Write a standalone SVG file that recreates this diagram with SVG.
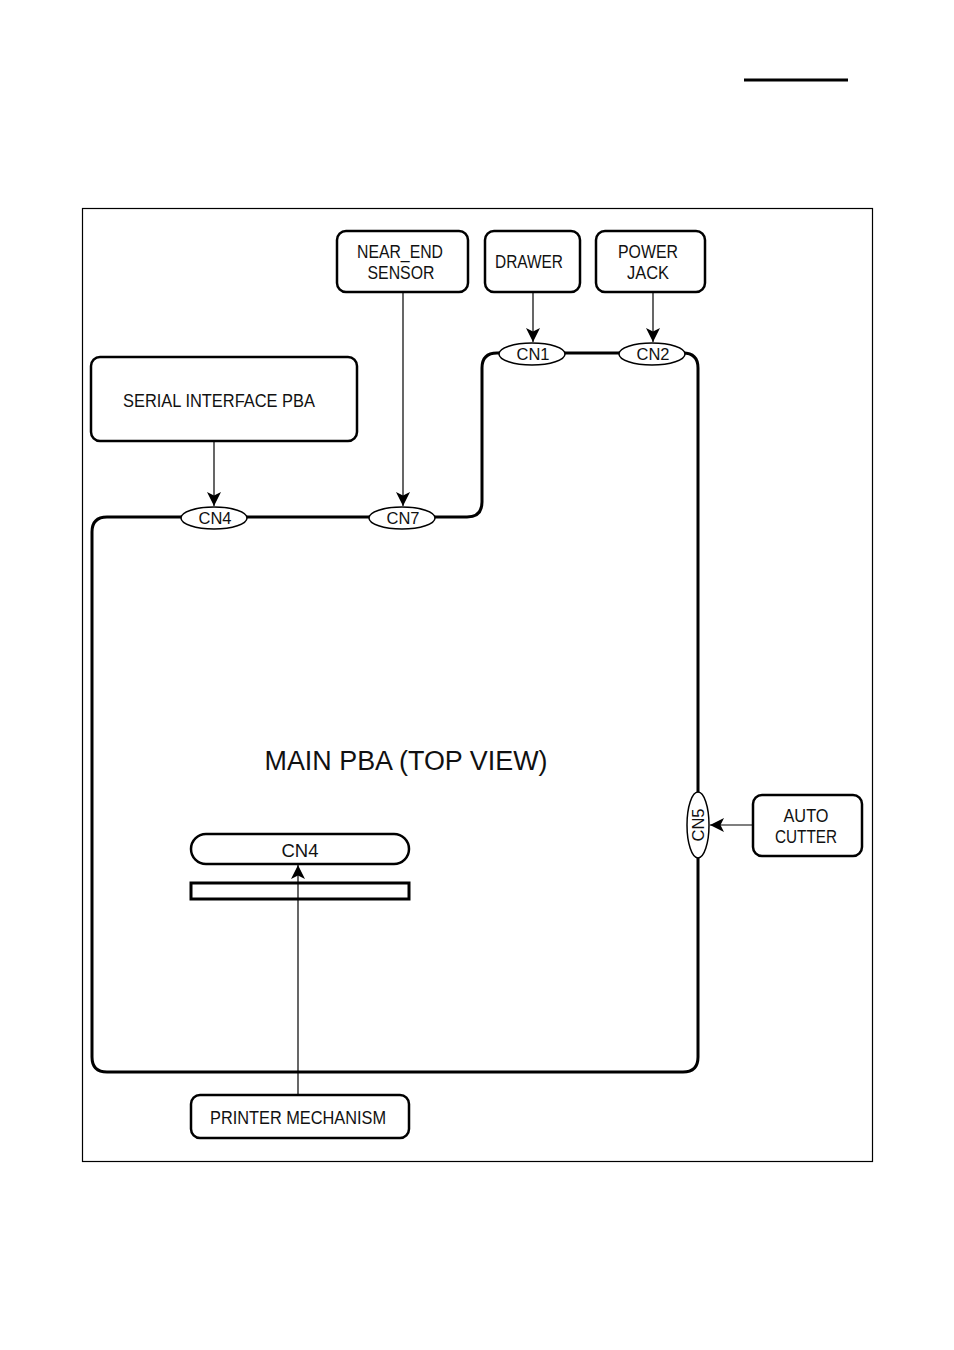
<svg xmlns="http://www.w3.org/2000/svg" width="954" height="1350" viewBox="0 0 954 1350">
<style>
.box{fill:#fff;stroke:#000;stroke-width:2.5}
.t{font-family:"Liberation Sans",Arial,sans-serif;font-size:18px;fill:#111;text-anchor:middle}
.c{font-family:"Liberation Sans",Arial,sans-serif;font-size:16px;fill:#111;text-anchor:middle}
.ell{fill:#fff;stroke:#000;stroke-width:1.5}
.ln{stroke:#000;stroke-width:1.2;fill:none}
</style>
<defs>
<marker id="ah" viewBox="0 0 12 12" refX="12" refY="6" markerWidth="14" markerHeight="14" markerUnits="userSpaceOnUse" orient="auto">
<path d="M0,0 L12,6 L0,12 L3,6 z" fill="#000"/>
</marker>
</defs>
<rect width="954" height="1350" fill="#fff"/>
<line x1="744" y1="80" x2="848" y2="80" stroke="#000" stroke-width="3"/>
<rect x="82.5" y="208.5" width="790" height="953" fill="none" stroke="#000" stroke-width="1.2"/>
<g id="main-pba">
<path d="M92,532 Q92,517 107,517 L467,517 Q482,517 482,502 L482,368 Q482,353 497,353 L683,353 Q698,353 698,368 L698,1057 Q698,1072 683,1072 L107,1072 Q92,1072 92,1057 Z" fill="none" stroke="#000" stroke-width="3"/>
<text x="406" y="770" font-family="Liberation Sans, Arial, sans-serif" font-size="27" fill="#111" text-anchor="middle" textLength="283" lengthAdjust="spacingAndGlyphs">MAIN PBA (TOP VIEW)</text>
<rect x="191" y="883" width="218" height="16" fill="#fff" stroke="#000" stroke-width="3"/>
</g>
<g id="connectors">
<line class="ln" x1="403" y1="292" x2="403" y2="506" marker-end="url(#ah)"/>
<line class="ln" x1="533" y1="292" x2="533" y2="342" marker-end="url(#ah)"/>
<line class="ln" x1="653" y1="292" x2="653" y2="342" marker-end="url(#ah)"/>
<line class="ln" x1="214" y1="441" x2="214" y2="506" marker-end="url(#ah)"/>
<line class="ln" x1="753" y1="825" x2="710" y2="825" marker-end="url(#ah)"/>
<line class="ln" x1="298" y1="1095" x2="298" y2="865" marker-end="url(#ah)"/>
</g>
<g id="cn4-top"><ellipse class="ell" cx="214" cy="518" rx="33" ry="11"/><text class="c" x="215" y="524" textLength="33" lengthAdjust="spacingAndGlyphs">CN4</text></g>
<g id="cn7"><ellipse class="ell" cx="402" cy="518" rx="33" ry="11"/><text class="c" x="403" y="524" textLength="33" lengthAdjust="spacingAndGlyphs">CN7</text></g>
<g id="cn1"><ellipse class="ell" cx="532" cy="354" rx="33" ry="11"/><text class="c" x="533" y="360" textLength="33" lengthAdjust="spacingAndGlyphs">CN1</text></g>
<g id="cn2"><ellipse class="ell" cx="652" cy="354" rx="33" ry="11"/><text class="c" x="653" y="360" textLength="33" lengthAdjust="spacingAndGlyphs">CN2</text></g>
<g id="cn5"><ellipse class="ell" cx="698" cy="825" rx="11" ry="33"/><text class="c" x="0" y="0" transform="translate(704,825) rotate(-90)" textLength="33" lengthAdjust="spacingAndGlyphs">CN5</text></g>
<g id="near-end"><rect class="box" x="337" y="231" width="131" height="61" rx="9"/><text class="t" x="400" y="258" textLength="86" lengthAdjust="spacingAndGlyphs">NEAR_END</text><text class="t" x="401" y="279" textLength="67" lengthAdjust="spacingAndGlyphs">SENSOR</text></g>
<g id="drawer"><rect class="box" x="485" y="231" width="95" height="61" rx="9"/><text class="t" x="529" y="268" textLength="68" lengthAdjust="spacingAndGlyphs">DRAWER</text></g>
<g id="power-jack"><rect class="box" x="596" y="231" width="109" height="61" rx="9"/><text class="t" x="648" y="258" textLength="60" lengthAdjust="spacingAndGlyphs">POWER</text><text class="t" x="648" y="279" textLength="42" lengthAdjust="spacingAndGlyphs">JACK</text></g>
<g id="serial"><rect class="box" x="91" y="357" width="266" height="84" rx="9"/><text class="t" x="219" y="407" textLength="192" lengthAdjust="spacingAndGlyphs">SERIAL INTERFACE PBA</text></g>
<g id="auto-cutter"><rect class="box" x="753" y="795" width="109" height="61" rx="9"/><text class="t" x="806" y="822" textLength="45" lengthAdjust="spacingAndGlyphs">AUTO</text><text class="t" x="806" y="843" textLength="62" lengthAdjust="spacingAndGlyphs">CUTTER</text></g>
<g id="cn4-printer"><rect class="box" x="191" y="834" width="218" height="30" rx="15"/><text class="t" x="300" y="857" textLength="37" lengthAdjust="spacingAndGlyphs">CN4</text></g>
<g id="printer"><rect class="box" x="191" y="1095" width="218" height="43" rx="9"/><text class="t" x="298" y="1124" textLength="176" lengthAdjust="spacingAndGlyphs">PRINTER MECHANISM</text></g>
</svg>
